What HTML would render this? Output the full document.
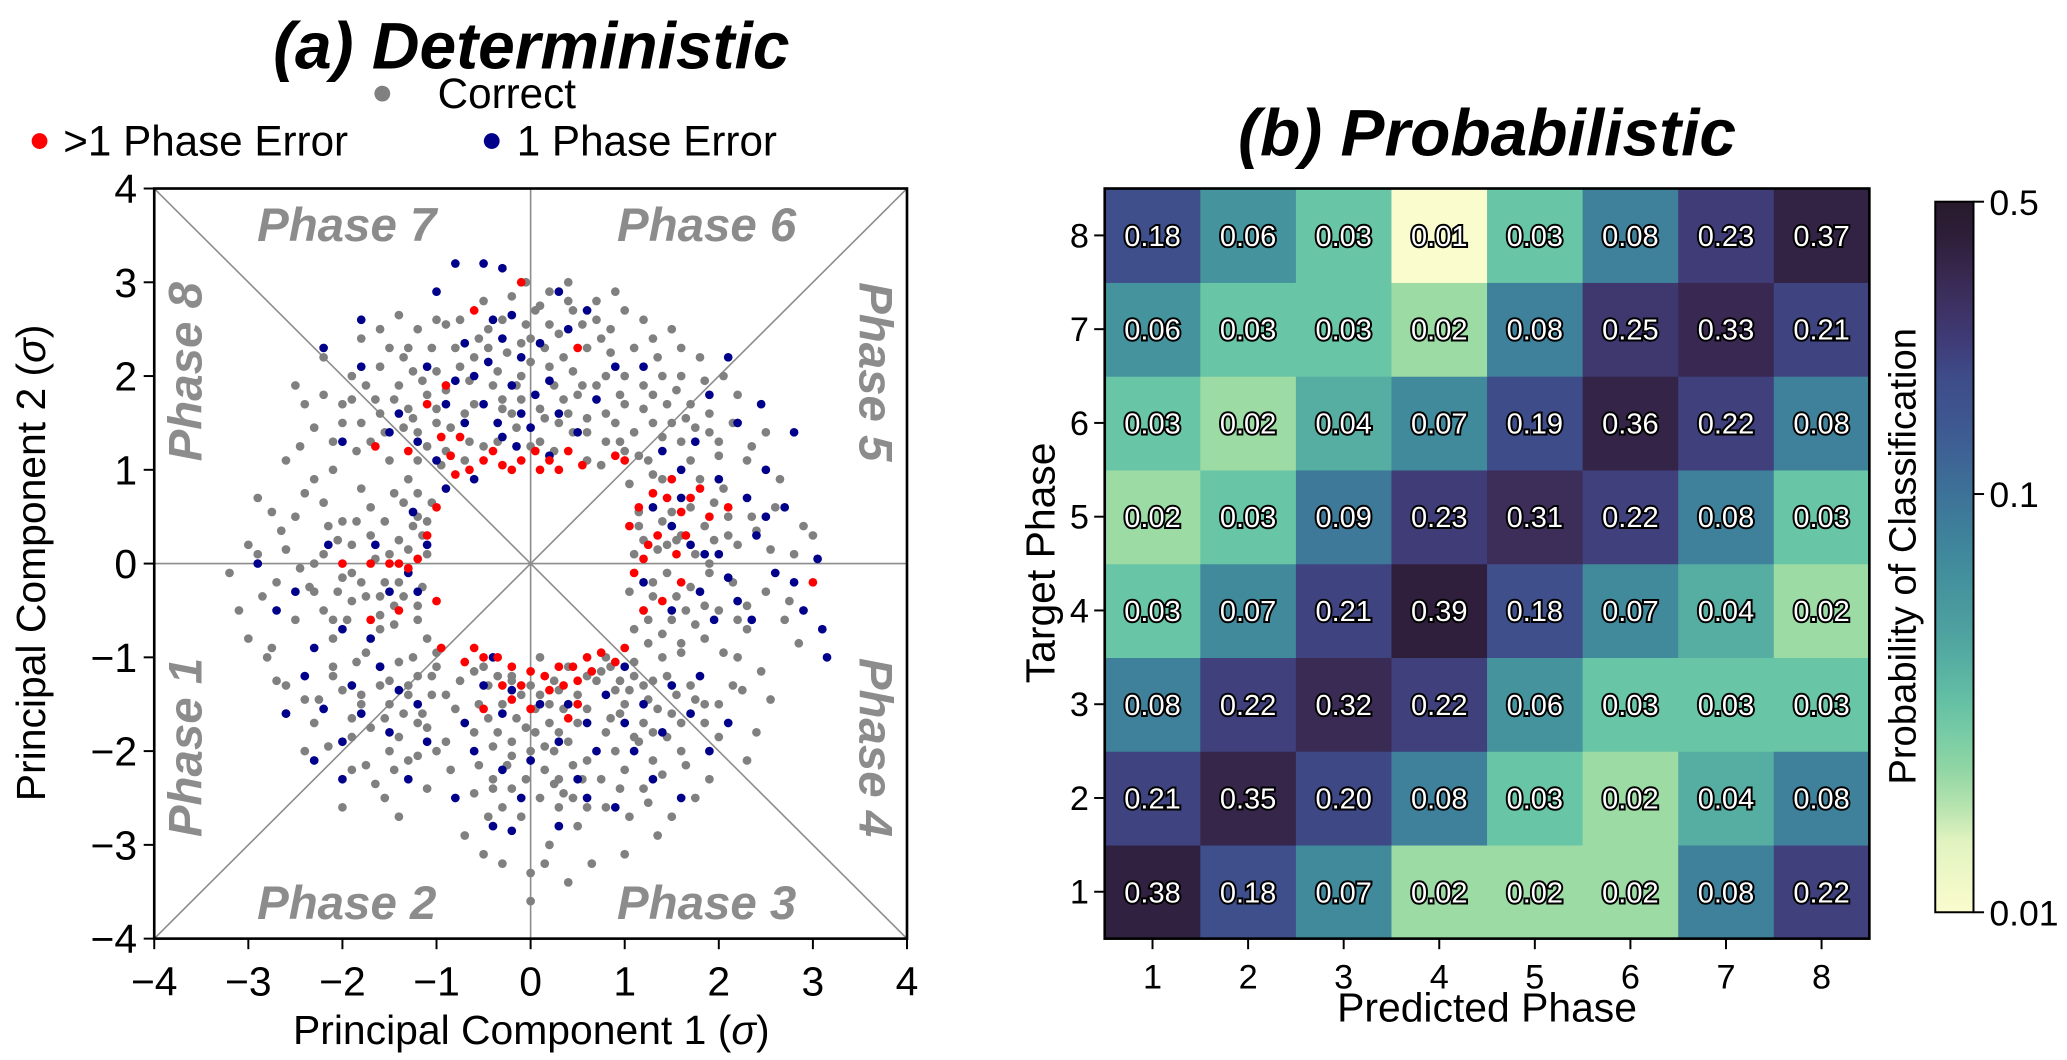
<!DOCTYPE html>
<html><head><meta charset="utf-8"><style>
html,body{margin:0;padding:0;background:#fff;}
svg{display:block;font-family:"Liberation Sans",sans-serif;}
</style></head><body>
<svg id="fig" width="2067" height="1060" viewBox="0 0 2067 1060" xmlns="http://www.w3.org/2000/svg">
<defs><linearGradient id="cbg" x1="0" y1="1" x2="0" y2="0"></linearGradient></defs>
<g transform="scale(1.3183)">
<text x="403" y="52" text-anchor="middle" font-size="50" font-weight="bold" font-style="italic">(a) Deterministic</text>
<g>
<circle cx="290" cy="71" r="6" fill="#808080"/>
<text x="332" y="82" font-size="32">Correct</text>
<circle cx="30" cy="107" r="6" fill="#ff0000"/>
<text x="48" y="118" font-size="32">&gt;1 Phase Error</text>
<circle cx="373" cy="107" r="6" fill="#00008b"/>
<text x="392" y="118" font-size="32">1 Phase Error</text>
</g>
<g id="scatter"></g>
<text x="195" y="183" font-size="36" font-weight="bold" font-style="italic" fill="#8c8c8c">Phase 7</text>
<text x="468" y="183" font-size="36" font-weight="bold" font-style="italic" fill="#8c8c8c">Phase 6</text>
<text x="195" y="697" font-size="36" font-weight="bold" font-style="italic" fill="#8c8c8c">Phase 2</text>
<text x="468" y="697" font-size="36" font-weight="bold" font-style="italic" fill="#8c8c8c">Phase 3</text>
<text transform="translate(153,282) rotate(-90)" text-anchor="middle" font-size="36" font-weight="bold" font-style="italic" fill="#8c8c8c">Phase 8</text>
<text transform="translate(153,567) rotate(-90)" text-anchor="middle" font-size="36" font-weight="bold" font-style="italic" fill="#8c8c8c">Phase 1</text>
<text transform="translate(652,282) rotate(90)" text-anchor="middle" font-size="36" font-weight="bold" font-style="italic" fill="#8c8c8c">Phase 5</text>
<text transform="translate(652,567) rotate(90)" text-anchor="middle" font-size="36" font-weight="bold" font-style="italic" fill="#8c8c8c">Phase 4</text>
<text x="403" y="792" text-anchor="middle" font-size="31">Principal Component 1 (<tspan font-style="italic">σ</tspan>)</text>
<text transform="translate(34,427) rotate(-90)" text-anchor="middle" font-size="31">Principal Component 2 (<tspan font-style="italic">σ</tspan>)</text>

<text x="1128" y="118" text-anchor="middle" font-size="50" font-weight="bold" font-style="italic">(b) Probabilistic</text>
<g id="heat"></g>
<text x="1128" y="775" text-anchor="middle" font-size="31">Predicted Phase</text>
<text transform="translate(800,427) rotate(-90)" text-anchor="middle" font-size="31">Target Phase</text>
<g id="cbar"></g>
<text transform="translate(1453,422) rotate(-90)" text-anchor="middle" font-size="29">Probability of Classification</text>
</g>
</svg>
<script>
const NS="http://www.w3.org/2000/svg";
// ---------- scatter data ----------
const grayX=[1.1,1.3,1.6,1.9,2.2,2.5,2.8,1.2,1.5,2.0,2.3,1.7,2.1,2.6,1.4,1.8,1.0,1.3,1.6,1.9,1.2,1.6,2.0,2.3,0.9,1.1,1.5,0.8,2.2,1.8,0.7,1.0,0.1,0.3,-0.2,0.5,-0.4,0.2,0.0,-0.3,0.4,0.6,-0.6,0.2,-0.1,0.8,0.6,-0.9,-1.2,-1.5,-1.1,-1.4,-1.8,-0.8,-1.3,-1.9,-2.1,-0.7,-1.6,-1.0,-2.4,-2.2,-0.5,-1.2,-1.1,-1.4,-1.7,-1.9,-2.2,-2.5,-2.7,-3.0,-1.3,-1.8,-2.3,-2.6,-2.9,-1.2,-1.6,-2.1,-2.5,-3.1,-1.0,-1.3,-1.6,-1.8,-1.2,-2.1,-2.3,-1.5,-0.9,-1.9,-2.6,-1.1,-2.0,-1.4,-2.8,-0.5,-0.2,0.1,0.4,-0.3,0.2,0.5,-0.6,0.0,0.3,-0.4,0.6,-0.1,0.2,-0.3,0.0,0.5,-0.7,0.8,1.1,1.4,1.0,1.3,1.7,0.9,1.6,2.0,1.2,2.2,1.9,0.8,1.5,2.4,1.0,
1.15,1.35,1.55,1.75,2.05,2.4,2.7,2.9,1.25,1.85,2.45,1.05,1.25,1.45,1.7,2.05,2.5,1.35,0.95,1.65,0.75,1.2,0.25,-0.35,0.45,-0.1,0.15,0.35,-0.25,0.05,-0.45,0.55,0.9,-0.05,-0.65,-1.0,-1.3,-1.65,-1.0,-1.6,-2.0,-1.85,-2.3,-1.2,-0.75,-1.8,-1.15,-1.35,-1.5,-1.6,-2.0,-2.35,-2.6,-2.85,-1.45,-1.9,-2.2,-2.75,-3.2,-2.1,-1.1,-1.4,-1.5,-1.9,-1.75,-2.25,-1.05,-1.3,-1.65,-2.4,-0.85,-2.6,-0.75,-0.1,0.25,-0.45,0.05,0.4,-0.2,0.15,-0.55,0.45,-0.2,0.0,0.3,-0.45,0.65,0.7,0.95,1.25,1.5,1.15,1.85,1.4,2.15,1.75,1.05,2.3,0.85];
const grayY=[0.1,-0.2,0.3,-0.1,0.2,-0.3,0.1,-0.5,-0.6,-0.5,-0.7,0.6,0.5,0.6,0.9,0.9,1.2,1.5,1.3,1.6,1.9,2.0,1.3,1.1,1.5,2.3,2.5,2.0,1.8,2.2,2.6,2.7,1.3,1.5,1.6,1.8,1.9,2.1,2.4,2.6,2.8,2.3,2.2,2.9,2.0,1.3,1.1,1.2,1.4,1.1,1.8,1.9,1.5,2.3,2.3,2.0,1.3,1.6,2.5,2.6,1.7,2.2,2.8,0.5,0.1,-0.2,0.3,-0.4,0.1,0.5,-0.2,0.2,0.9,0.8,0.9,1.1,0.7,-0.6,-0.7,-0.8,-0.6,-0.5,-1.1,-1.3,-1.1,-1.5,-1.7,-1.2,-1.7,-2.0,-1.9,-2.2,-1.3,-2.4,-2.6,-2.7,-1.0,-1.1,-1.2,-1.0,-1.1,-1.5,-1.7,-1.4,-1.8,-2.0,-2.3,-2.4,-2.1,-2.7,-3.0,-3.2,-3.6,-2.8,-2.9,-1.0,-1.2,-1.0,-1.5,-1.8,-1.3,-2.0,-2.0,-1.5,-2.4,-1.0,-2.3,-2.6,-2.7,-1.8,-3.1,
0.4,0.15,-0.35,0.1,0.8,0.35,-0.6,0.4,-0.85,-0.8,-1.15,0.85,1.1,1.7,1.1,2.0,1.4,2.2,1.8,1.55,2.4,2.6,1.2,1.3,1.4,1.75,1.55,2.2,2.25,2.7,2.5,2.55,2.9,3.0,1.3,1.5,1.65,1.75,2.05,2.1,1.7,1.2,1.45,2.5,2.6,2.4,0.3,0.65,0.1,-0.35,0.45,-0.25,0.15,-0.35,-0.45,-0.1,-0.5,0.55,-0.1,1.0,-0.8,-1.05,-1.5,-1.85,-0.95,-1.45,-1.4,-2.1,-2.35,-2.0,-2.2,-1.6,-1.25,-1.4,-1.25,-1.65,-1.55,-1.9,-1.9,-2.2,-2.15,-2.5,-2.4,-3.3,-2.6,-2.7,-3.2,-1.25,-1.25,-1.45,-1.6,-1.9,-1.7,-2.25,-1.3,-2.5,-2.7,-2.1,-1.65];
const grayX2=[1.05,1.2,1.45,1.65,1.95,2.15,2.35,2.55,2.75,2.65,2.3,1.85,1.5,1.3,2.05,1.6,2.85,3.0,
1.1,1.4,1.75,2.15,1.55,1.3,0.85,1.85,2.35,1.0,1.6,2.0,0.7,1.2,
0.0,-0.15,0.35,-0.3,0.15,-0.05,0.3,-0.35,0.45,0.6,-0.55,0.1,0.4,0.7,-0.2,
-0.85,-1.1,-1.35,-1.55,-0.9,-1.25,-1.5,-1.75,-2.0,-2.2,-0.6,-1.05,-1.4,-2.45,-2.5,-0.9,
-1.05,-1.25,-1.3,-1.55,-1.7,-1.8,-2.05,-2.2,-2.45,-2.65,-2.4,-1.35,-1.6,-1.95,-2.3,-2.9,-2.05,-1.15,-3.0,-2.75,
-1.0,-1.2,-1.35,-1.6,-1.7,-2.0,-2.15,-1.45,-1.1,-0.8,-1.85,-2.4,-1.2,-1.75,-2.7,-1.55,
-0.6,-0.35,0.0,0.3,0.6,-0.15,0.2,0.5,-0.4,0.05,0.25,-0.25,0.55,-0.05,0.35,-0.6,0.1,-0.3,0.6,0.15,-0.5,0.4,
0.85,1.05,1.3,1.55,0.95,1.2,1.75,1.45,1.0,1.65,2.0,1.25,2.25,0.75,1.35,2.55];
const grayY2=[-0.3,0.25,-0.1,-0.5,0.25,-0.2,0.5,0.15,-0.4,0.9,-0.45,0.4,0.55,-0.35,-0.95,-0.85,-0.85,0.3,
1.4,1.35,1.45,1.5,1.85,2.4,2.25,1.95,1.25,2.0,2.3,1.15,1.9,1.65,
1.25,1.45,1.75,1.75,2.3,2.55,2.45,2.05,2.05,1.55,2.4,2.75,3.0,2.8,2.85,
1.45,1.25,1.45,1.4,1.85,2.05,2.3,1.9,1.5,1.8,1.7,2.3,2.65,1.25,1.9,2.55,
0.65,0.4,0.15,0.45,0.6,-0.2,0.25,0.65,-0.05,0.35,0.75,-0.35,-0.55,-0.6,-0.3,0.1,-0.3,-0.25,-0.8,-0.9,
-0.95,-1.2,-1.6,-1.3,-1.75,-1.35,-1.95,-2.2,-1.75,-1.55,-1.05,-1.45,-2.05,-2.15,-1.25,-2.5,
-1.15,-1.2,-1.3,-1.35,-1.2,-1.65,-1.5,-1.7,-1.95,-1.8,-2.0,-2.15,-2.3,-2.3,-2.45,-2.45,-2.5,-2.6,-2.6,-3.2,-3.1,-3.4,
-1.1,-1.35,-1.25,-1.4,-1.6,-1.7,-1.45,-1.85,-2.2,-2.15,-1.85,-2.55,-1.35,-2.3,-2.9,-1.45];
const grayX3=[1.1,1.25,1.4,1.15,1.4,1.55,1.7,1.85,1.95,1.3,1.6,1.75,2.1,2.2,1.45,1.9,
0.75,0.95,1.15,1.3,1.5,1.7,0.8,1.0,1.9,1.4,0.6,0.85,
-0.5,-0.3,0.1,0.4,-0.15,0.25,0.55,-0.45,0.2,-0.1,0.0,0.45,-0.65,
-0.7,-0.95,-1.2,-1.0,-1.25,-1.45,-1.7,-0.75,-1.15,-1.35,-1.9,-1.6,
-1.1,-1.2,-1.4,-1.45,-1.65,-1.85,-1.75,-2.0,-1.2,-1.45,-1.9,-2.15,-2.3,-1.3,-1.55,-2.1,
-1.05,-1.25,-1.3,-1.5,-1.55,-1.8,-0.9,-1.15,-1.4,-1.9,-2.1,-1.0,
-0.45,-0.2,0.1,0.35,-0.35,-0.05,0.3,0.6,-0.55,0.15,-0.2,0.45,-0.4,0.25,
0.75,0.9,1.1,1.2,1.45,1.35,0.8,1.1,1.6,1.85,1.3,0.95];
const grayY3=[-0.7,-0.6,-0.75,0.55,0.45,0.25,-0.25,-0.45,0.65,0.95,-0.95,-0.65,0.3,-0.6,0.2,0.0,
1.05,1.3,1.15,1.8,1.5,1.7,1.6,1.7,1.4,2.0,1.4,2.5,
1.25,1.65,1.65,1.6,1.9,1.9,1.9,2.3,2.55,2.35,2.15,2.7,1.95,
1.1,1.05,1.1,1.65,1.55,1.75,1.3,2.1,1.95,2.2,1.75,1.6,
0.45,0.75,0.25,0.75,0.05,0.45,-0.35,-0.15,-0.45,-0.65,0.2,0.4,0.0,-0.05,-0.2,-0.6,
-1.2,-1.0,-1.4,-1.25,-1.65,-1.4,-1.4,-1.6,-1.85,-1.65,-1.1,-2.0,
-1.3,-1.25,-1.4,-1.55,-1.8,-1.75,-1.8,-1.55,-1.5,-1.95,-2.05,-2.15,-2.3,-2.35,
-1.15,-1.35,-1.05,-1.3,-1.2,-1.55,-1.8,-1.85,-1.7,-1.5,-2.1,-2.4];
const blueX=[-0.8,-0.5,-0.3,-1.0,-1.8,-2.2,-0.4,-0.3,-0.1,0.1,-0.6,-0.2,0.2,-0.5,-0.1,0.3,-0.9,-0.7,-0.3,0.0,-1.2,-1.4,-1.0,0.5,0.7,0.9,0.6,0.3,-1.8,-2.0,1.5,1.7,1.8,2.0,2.2,2.4,2.6,2.8,3.05,3.1,3.15,2.9,2.3,2.0,1.6,2.5,2.8,2.2,1.9,2.1,1.2,1.4,1.3,1.2,-1.5,-1.3,-1.1,-1.7,-2.0,-2.3,-1.8,-1.5,-1.2,-2.0,-2.3,-1.3,-2.7,-2.9,-2.5,-2.4,-2.0,-0.5,-0.3,-0.6,0.1,0.3,0.6,0.8,1.0,1.2,1.5,1.7,1.9,1.3,0.9,0.5,-0.1,-0.4,-0.2,-0.8,1.6,2.1,0.3,1.0,-0.6,-0.9,0.2,-0.4,
-0.7,-0.45,-0.2,0.05,-0.8,-1.1,-0.35,0.4,-0.15,-1.5,1.6,1.85,2.1,2.5,2.35,1.95,2.7,1.75,2.45,1.5,-1.25,-1.2,-1.6,-1.4,-1.9,-1.1,-2.2,-1.65,-2.15,-2.6,-0.2,0.4,0.7,1.1,1.4,-0.3,0.0,0.6,1.8,-0.7];
const blueY=[3.2,3.2,3.15,2.9,2.6,2.3,2.6,2.4,2.2,2.35,2.0,1.9,1.95,1.7,1.6,1.6,1.7,1.5,1.35,1.45,1.3,1.6,1.1,1.4,1.75,2.1,2.7,2.9,2.1,1.3,0.4,0.2,-0.3,0.1,-0.4,0.3,-0.1,-0.2,0.05,-0.7,-1.0,-0.5,0.7,0.9,1.0,1.0,1.4,1.5,1.8,2.2,2.1,1.2,0.6,-0.2,-0.3,-0.1,0.2,-0.8,-0.7,-0.9,-1.6,-1.8,-1.5,-1.9,-2.1,-2.3,-0.5,0.0,-0.3,-1.2,-2.3,-1.3,-1.6,-2.0,-1.5,-1.9,-1.7,-1.4,-1.7,-1.5,-1.3,-1.6,-2.0,-2.3,-2.6,-2.3,-2.5,-2.8,-2.85,-2.5,-2.5,-1.7,-2.8,-1.1,0.9,0.8,1.15,-1.0,
2.35,2.15,2.65,1.8,1.95,2.1,1.5,2.5,1.25,1.4,0.7,0.1,-0.15,0.5,-0.6,-0.6,0.6,1.3,1.7,-0.5,0.55,-0.3,-1.1,-1.35,-1.3,-1.9,-1.55,0.2,0.2,-1.6,-1.35,-1.5,-2.0,-2.0,-1.8,-2.2,-2.1,-2.5,-1.2,-1.7];
const redX=[-0.5,-0.3,-0.1,0.05,0.2,0.3,0.1,-0.2,0.4,-0.65,-0.8,-0.85,-0.1,-0.6,0.5,-1.1,-1.3,-1.65,-0.9,-0.75,-1.0,-1.1,-1.2,-1.4,-1.5,-1.7,-2.0,-1.0,-0.95,-1.4,-1.7,-0.6,-0.5,-0.35,-0.2,0.0,0.15,0.3,0.45,0.6,0.75,0.5,0.2,-0.1,-0.3,0.0,0.5,1.0,-0.5,0.4,1.05,1.15,1.3,1.45,1.6,1.8,1.5,1.1,1.2,1.35,1.65,1.9,2.1,1.2,1.4,1.6,3.0,0.9,1.0,
0.55,-0.4,-0.95,1.25,1.55,1.7,-1.3,-0.7,0.35,0.65,0.9,-0.2];
const redY=[1.1,1.05,1.1,1.2,1.1,1.0,1.0,1.0,1.2,1.0,0.95,1.15,3.0,2.7,2.3,1.7,1.2,1.25,1.9,1.35,0.6,0.3,0.05,0.0,0.0,0.0,0.0,-0.4,-0.9,-0.5,-0.6,-0.9,-1.0,-1.0,-1.1,-1.15,-1.2,-1.1,-1.1,-1.0,-0.95,-1.25,-1.35,-1.3,-1.3,-1.55,-1.5,-0.9,-1.55,-1.65,0.4,0.6,0.75,0.7,0.55,0.8,0.9,-0.1,0.05,0.3,0.3,0.5,0.6,-0.5,-0.4,-0.2,-0.2,1.15,1.1,
1.05,1.2,1.35,0.2,0.1,0.7,-0.05,-1.05,-1.3,-1.15,-1.05,-1.45];
const scatterTicks=[-4,-3,-2,-1,0,1,2,3,4];
const scatterTickLabels=["−4","−3","−2","−1","0","1","2","3","4"];
// ---------- heatmap data ----------
const phases=["1","2","3","4","5","6","7","8"];
const probRow1=[0.38,0.18,0.07,0.02,0.02,0.02,0.08,0.22];
const probRow2=[0.21,0.35,0.20,0.08,0.03,0.02,0.04,0.08];
const probRow3=[0.08,0.22,0.32,0.22,0.06,0.03,0.03,0.03];
const probRow4=[0.03,0.07,0.21,0.39,0.18,0.07,0.04,0.02];
const probRow5=[0.02,0.03,0.09,0.23,0.31,0.22,0.08,0.03];
const probRow6=[0.03,0.02,0.04,0.07,0.19,0.36,0.22,0.08];
const probRow7=[0.06,0.03,0.03,0.02,0.08,0.25,0.33,0.21];
const probRow8=[0.18,0.06,0.03,0.01,0.03,0.08,0.23,0.37];
const probRows=[probRow1,probRow2,probRow3,probRow4,probRow5,probRow6,probRow7,probRow8];
const cbarTicks=[0.01,0.1,0.5];
const cbarTickLabels=["0.01","0.1","0.5"];

function mk(tag,attrs,parent){const e=document.createElementNS(NS,tag);for(const k in attrs)e.setAttribute(k,attrs[k]);parent.appendChild(e);return e;}

// ---------- scatter ----------
const L=117,R=688,T=143,B=712;
const sx=v=>L+(v+4)/8*(R-L);
const sy=v=>B-(v+4)/8*(B-T);
const sc=document.getElementById('scatter');
const guides=[[-4,-4,4,4],[-4,4,4,-4],[0,-4,0,4],[-4,0,4,0]];
guides.forEach(g=>{const l=mk('line',{x1:sx(g[0]),y1:sy(g[1]),x2:sx(g[2]),y2:sy(g[3]),stroke:'#8c8c8c','stroke-width':1.2},sc);

});
function pts(xs,ys,col,name){for(let i=0;i<xs.length;i++){const c=mk('circle',{cx:sx(xs[i]),cy:sy(ys[i]),r:3.3,fill:col},sc);

}}
pts(grayX,grayY,'#808080','correct-point');
pts(grayX2,grayY2,'#808080','correct-point');
pts(grayX3,grayY3,'#808080','correct-point');
pts(blueX,blueY,'#00008b','one-phase-error-point');
pts(redX,redY,'#ff0000','multi-phase-error-point');
const fr=mk('rect',{x:L,y:T,width:R-L,height:B-T,fill:'none',stroke:'#000','stroke-width':2},sc);


scatterTicks.forEach((t,i)=>{
 const a=mk('line',{x1:sx(t),y1:B,x2:sx(t),y2:B+8,stroke:'#000','stroke-width':1.5},sc);
 
 
 const tx=mk('text',{x:sx(t),y:B+43,'text-anchor':'middle','font-size':31},sc);tx.textContent=scatterTickLabels[i];
 
 
 const b=mk('line',{x1:L-8,y1:sy(t),x2:L,y2:sy(t),stroke:'#000','stroke-width':1.5},sc);
 
 
 const ty=mk('text',{x:L-13,y:sy(t)+11,'text-anchor':'end','font-size':31},sc);ty.textContent=scatterTickLabels[i];
 
 
});

// ---------- colormap ----------
const stops=[[0,[250,252,206]],[0.1,[225,243,192]],[0.177,[157,219,164]],[0.281,[104,197,165]],[0.38,[80,165,160]],[0.497,[64,138,156]],[0.589,[61,114,152]],[0.68,[62,88,146]],[0.753,[62,77,138]],[0.80,[63,60,120]],[0.878,[60,45,89]],[0.937,[47,31,61]],[1,[40,26,44]]];
function cmap(t){t=Math.max(0,Math.min(1,t));for(let i=1;i<stops.length;i++){if(t<=stops[i][0]){const a=stops[i-1],b=stops[i];const f=(t-a[0])/(b[0]-a[0]);const c=a[1].map((v,k)=>Math.round(v+(b[1][k]-v)*f));return `rgb(${c})`;}}return 'rgb(40,26,44)';}
const lt=v=>Math.log(v/0.01)/Math.log(50);

// ---------- heatmap ----------
const HL=838,HR=1418,HT=143,HB=712;
const cw=(HR-HL)/8,ch=(HB-HT)/8;
const hx=i=>HL+i*cw, hy=j=>HB-(j+1)*ch;
const hm=document.getElementById('heat');
probRows.forEach((row,j)=>row.forEach((v,i)=>{
 const r=mk('rect',{x:hx(i),y:hy(j),width:cw+0.5,height:ch+0.5,fill:cmap(lt(v))},hm);
 
 
 const t=mk('text',{x:hx(i)+cw/2,y:hy(j)+ch/2+8,'text-anchor':'middle','font-size':22,fill:'#fff',stroke:'#000','stroke-width':3,'paint-order':'stroke'},hm);
 t.textContent=v.toFixed(2);
 
 
}));
const hf=mk('rect',{x:HL,y:HT,width:HR-HL,height:HB-HT,fill:'none',stroke:'#000','stroke-width':2},hm);


phases.forEach((p,i)=>{
 const a=mk('line',{x1:hx(i)+cw/2,y1:HB,x2:hx(i)+cw/2,y2:HB+8,stroke:'#000','stroke-width':1.5},hm);
 
 
 const tx=mk('text',{x:hx(i)+cw/2,y:HB+38,'text-anchor':'middle','font-size':26},hm);tx.textContent=p;
 
 
 const b=mk('line',{x1:HL-8,y1:hy(i)+ch/2,x2:HL,y2:hy(i)+ch/2,stroke:'#000','stroke-width':1.5},hm);
 
 
 const ty=mk('text',{x:HL-12,y:hy(i)+ch/2+9,'text-anchor':'end','font-size':26},hm);ty.textContent=p;
 
 
});

// ---------- colorbar ----------
const CL=1468,CR=1497,CT=153,CB=692;
const grad=document.getElementById('cbg');
for(let k=0;k<=20;k++){mk('stop',{offset:(k/20),'stop-color':cmap(k/20)},grad);}
const cb=document.getElementById('cbar');
const cr=mk('rect',{x:CL,y:CT,width:CR-CL,height:CB-CT,fill:'url(#cbg)',stroke:'#000','stroke-width':1.5},cb);


cbarTicks.forEach((v,i)=>{const y=CB-lt(v)*(CB-CT);
 const l=mk('line',{x1:CR,y1:y,x2:CR+8,y2:y,stroke:'#000','stroke-width':1.5},cb);
 
 
 const t=mk('text',{x:CR+12,y:y+10,'font-size':27},cb);t.textContent=cbarTickLabels[i];
 
 
});
</script>
</body></html>
